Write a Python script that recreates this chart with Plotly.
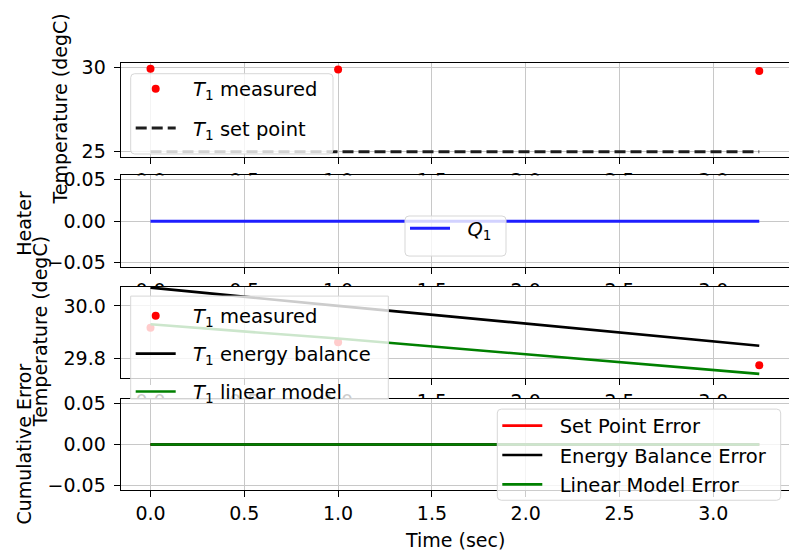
import plotly.graph_objects as go

W, H = 789, 558

# ---------------- data ----------------
time_s = [0.0, 1.0, 3.245]
t1_measured = [29.917, 29.862, 29.775]
t1_setpoint = [25.0, 25.0, 25.0]
q1_heater = [0.0, 0.0, 0.0]
t1_energy_balance = [30.069, 30.0, 29.849]
t1_linear_model = [29.93, 29.876, 29.742]
err_setpoint = [0.0, 0.0, 0.0]
err_energy = [0.0, 0.0, 0.0]
err_linear = [0.0, 0.0, 0.0]

x_ticks = [0.0, 0.5, 1.0, 1.5, 2.0, 2.5, 3.0]
x_tick_labels = ["0.0", "0.5", "1.0", "1.5", "2.0", "2.5", "3.0"]
y1_ticks = [25, 30]
y1_tick_labels = ["25", "30"]
y2_ticks = [-0.05, 0.0, 0.05]
y2_tick_labels = ["\u22120.05", "0.00", "0.05"]
y3_ticks = [29.8, 30.0]
y3_tick_labels = ["29.8", "30.0"]
y4_ticks = [-0.05, 0.0, 0.05]
y4_tick_labels = ["\u22120.05", "0.00", "0.05"]

# ---------------- layout helpers (pixels) ----------------
FONT = dict(family="DejaVu Sans", size=19, color="black")
LFONT = dict(family="DejaVu Sans", size=19.5, color="black")
left_px = 120.7
x0_px = 150.5
px_per_unit = 187.6
x_range = [(left_px - x0_px) / px_per_unit, (W - x0_px) / px_per_unit]

panels = [  # (top px, bottom px, y range)
    (57.3, 153.3, [24.711, 30.254]),
    (172.5, 266.0, [-0.055, 0.055]),
    (286.5, 379.7, [29.727, 30.0722]),
    (401.3, 494.5, [-0.055, 0.055]),
]
yticks = [(y1_ticks, y1_tick_labels), (y2_ticks, y2_tick_labels),
          (y3_ticks, y3_tick_labels), (y4_ticks, y4_tick_labels)]

def py(p):
    return 1 - p / H

def px(p):
    return p / W

fig = go.Figure()

# dummy full-page subplot so each real subplot gets its own background
fig.add_trace(go.Scatter(x=[None], y=[None], xaxis="x", yaxis="y",
                         showlegend=False, hoverinfo="skip"))

RED = "rgb(255,0,0)"
BLUE = "rgb(30,30,255)"
GREEN = "rgb(0,128,0)"
BLACK = "rgb(0,0,0)"
LW = 2.6
SP = "\u00a0\u00a0"

sub1 = SP + "<i>T</i><sub>1</sub>"

# panel 1
fig.add_trace(go.Scatter(x=time_s, y=t1_measured, mode="markers", name=sub1 + " measured",
                         marker=dict(color=RED, size=8), xaxis="x2", yaxis="y2",
                         legend="legend", legendgroup="a1"))
fig.add_trace(go.Scatter(x=time_s, y=t1_setpoint, mode="lines", name=sub1 + " set point",
                         line=dict(color="rgb(30,30,30)", width=3, dash="11px,5px"),
                         xaxis="x2", yaxis="y2", legend="legend", legendgroup="a2"))
# panel 2
fig.add_trace(go.Scatter(x=time_s, y=q1_heater, mode="lines", name=SP + "<i>Q</i><sub>1</sub>" + SP,
                         line=dict(color=BLUE, width=3), xaxis="x3", yaxis="y3",
                         legend="legend2"))
# panel 3
fig.add_trace(go.Scatter(x=time_s, y=t1_measured, mode="markers", name=sub1 + " measured",
                         marker=dict(color=RED, size=8), xaxis="x4", yaxis="y4",
                         legend="legend3", legendgroup="c1"))
fig.add_trace(go.Scatter(x=time_s, y=t1_energy_balance, mode="lines", name=sub1 + " energy balance",
                         line=dict(color=BLACK, width=LW), xaxis="x4", yaxis="y4",
                         legend="legend3", legendgroup="c2"))
fig.add_trace(go.Scatter(x=time_s, y=t1_linear_model, mode="lines", name=sub1 + " linear model",
                         line=dict(color=GREEN, width=LW), xaxis="x4", yaxis="y4",
                         legend="legend3", legendgroup="c3"))
# panel 4
fig.add_trace(go.Scatter(x=time_s, y=err_setpoint, mode="lines", name=SP + "Set Point Error",
                         line=dict(color=RED, width=LW), xaxis="x5", yaxis="y5",
                         legend="legend4", legendgroup="d1"))
fig.add_trace(go.Scatter(x=time_s, y=err_energy, mode="lines", name=SP + "Energy Balance Error",
                         line=dict(color=BLACK, width=LW), xaxis="x5", yaxis="y5",
                         legend="legend4", legendgroup="d2"))
fig.add_trace(go.Scatter(x=time_s, y=err_linear, mode="lines", name=SP + "Linear Model Error",
                         line=dict(color=GREEN, width=LW), xaxis="x5", yaxis="y5",
                         legend="legend4", legendgroup="d3"))

layout = dict(
    width=W, height=H,
    margin=dict(l=0, r=0, t=0, b=0, pad=0),
    paper_bgcolor="white", plot_bgcolor="white",
    font=FONT,
    xaxis=dict(domain=[0, 1], visible=False, range=[0, 1]),
    yaxis=dict(domain=[0, 1], visible=False, range=[0, 1]),
)

for i, (top, bot, yr) in enumerate(panels):
    n = i + 2
    tv, tt = yticks[i]
    layout[f"xaxis{n}"] = dict(
        domain=[px(left_px), 1.0], range=x_range, anchor=f"y{n}",
        tickmode="array", tickvals=x_ticks, ticktext=x_tick_labels,
        ticks="outside", ticklen=6, tickwidth=1.2, tickcolor="black",
        showline=True, linecolor="black", linewidth=1.2, mirror=True,
        showgrid=True, gridcolor="rgb(200,200,200)", gridwidth=1,
        zeroline=False, tickfont=FONT,
    )
    layout[f"yaxis{n}"] = dict(
        domain=[py(bot), py(top)], range=yr, anchor=f"x{n}",
        tickmode="array", tickvals=tv, ticktext=tt,
        ticks="outside", ticklen=6, tickwidth=1.2, tickcolor="black",
        showline=True, linecolor="black", linewidth=1.2, mirror=False,
        showgrid=True, gridcolor="rgb(200,200,200)", gridwidth=1,
        zeroline=False, tickfont=FONT, ticklabelstandoff=4,
    )

LEG = dict(bgcolor="rgba(0,0,0,0)", borderwidth=0,
           font=LFONT, xanchor="left", yanchor="top", traceorder="grouped", itemwidth=40)
layout["legend"] = dict(LEG, x=px(130.7), y=py(64), tracegroupgap=11)
layout["legend2"] = dict(LEG, x=px(405), y=py(207), tracegroupgap=0)
layout["legend3"] = dict(LEG, x=px(130.7), y=py(296.5), tracegroupgap=9.5)
layout["legend4"] = dict(LEG, x=px(497.3), y=py(409), tracegroupgap=1)

# legend frames (semi-transparent, rounded) drawn as shapes beneath the legend text
def frame(x0, y0, x1, y1, r=4):
    rx, ry = r / W, r / H
    X0, X1 = px(x0), px(x1)
    Y0, Y1 = py(y0), py(y1)  # Y0 top (larger), Y1 bottom
    d = (f"M{X0+rx},{Y0} L{X1-rx},{Y0} Q{X1},{Y0} {X1},{Y0-ry} "
         f"L{X1},{Y1+ry} Q{X1},{Y1} {X1-rx},{Y1} L{X0+rx},{Y1} "
         f"Q{X0},{Y1} {X0},{Y1+ry} L{X0},{Y0-ry} Q{X0},{Y0} {X0+rx},{Y0} Z")
    return dict(type="path", path=d, xref="paper", yref="paper", layer="above",
                fillcolor="rgba(255,255,255,0.8)",
                line=dict(color="rgb(215,215,215)", width=1))

layout["shapes"] = [
    frame(130.7, 68.3, 333.0, 150.5),
    frame(405.0, 214.0, 506.0, 255.0),
    frame(130.7, 296.0, 388.3, 401.3, r=0),
    frame(497.3, 411.7, 780.7, 505.0),
]

ylabels = [("Temperature (degC)", 60, 105), ("Heater", 24, 222),
           ("Temperature (degC)", 40, 333), ("Cumulative Error", 24, 448)]
ann = []
for text, xx, yy in ylabels:
    ann.append(dict(text=text, x=px(xx), y=py(yy), xref="paper", yref="paper",
                    textangle=-90, showarrow=False, xanchor="center", yanchor="middle",
                    font=FONT))
ann.append(dict(text="Time (sec)", x=px(455), y=py(546), xref="paper", yref="paper",
                showarrow=False, xanchor="center", yanchor="middle", font=FONT))
layout["annotations"] = ann

fig.update_layout(**layout)
fig.write_html("out.html", config={"displayModeBar": False},
               post_script="document.body.style.margin='0';")
